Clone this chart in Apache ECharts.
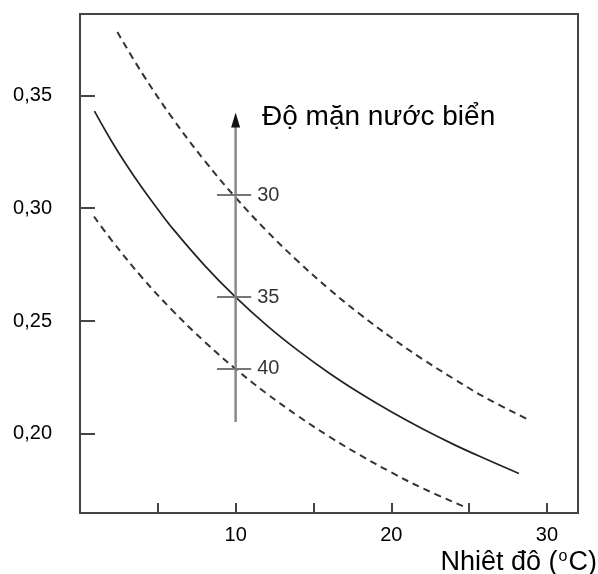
<!DOCTYPE html>
<html>
<head>
<meta charset="utf-8">
<script src="https://cdn.jsdelivr.net/npm/echarts@6/dist/echarts.min.js"></script>
<style>html,body{margin:0;padding:0;background:#fff}#c{width:598px;height:574px}</style>
</head>
<body>
<div id="c"></div>
<script>
// Temperature (°C) vs value — three curves for salinity 30, 35, 40
var solidCurve = [[0.93,0.343],[2,0.330],[3,0.319],[4,0.3089],[5,0.2995],[6,0.2906],[8,0.2747],[10,0.2606],[12,0.2481],[14,0.237],[16,0.227],[18,0.218],[20,0.2098],[22,0.2023],[24,0.1954],[26,0.1891],[28.2,0.1825]];
var upperCurve = [[2.4,0.378],[4,0.3597],[6,0.3393],[8,0.3211],[10,0.3047],[12,0.2899],[14,0.2765],[16,0.2642],[18,0.253],[20,0.2427],[22,0.2332],[24,0.2245],[26,0.2163],[28.9,0.206]];
var lowerCurve = [[0.9,0.2963],[2,0.2861],[4,0.2692],[6,0.2543],[8,0.2409],[10,0.2288],[12,0.2179],[14,0.208],[16,0.1989],[18,0.1906],[20,0.183],[22,0.176],[24.9,0.1672]];
var salinity = [30, 35, 40];
var salinityY = [0.3058, 0.2606, 0.2288];
var arrowLine = [[10,0.2053],[10,0.3391]];
var tickSpan = [8.8, 11.0];
var xTicks = [5,10,15,20,25,30];
var xLabels = [10,20,30];
var yTicks = [0.20,0.25,0.30,0.35];
var titleText = 'Độ mặn nước biển';

var FONT = 'Liberation Sans';
var chart = echarts.init(document.getElementById('c'), null, {renderer:'canvas'});
var dashed = {color:'#333', width:2, type:[7,5]};
chart.setOption({
  animation:false,
  backgroundColor:'#fff',
  grid:{left:80, right:20, top:14, bottom:61, show:true, borderColor:'#444', borderWidth:2},
  xAxis:{type:'value', min:0, max:32,
    axisLine:{show:true, lineStyle:{color:'#444', width:2}},
    axisTick:{show:true, inside:true, length:10, customValues:xTicks, lineStyle:{color:'#444', width:2}},
    axisLabel:{customValues:xLabels, fontSize:20, color:'#000', margin:12, fontFamily:FONT},
    splitLine:{show:false}},
  yAxis:{type:'value', min:0.165, max:0.386,
    axisLine:{show:true, lineStyle:{color:'#444', width:2}},
    axisTick:{show:true, inside:true, length:15, customValues:yTicks, lineStyle:{color:'#444', width:2}},
    axisLabel:{customValues:yTicks, fontSize:20, color:'#000', margin:28, fontFamily:FONT,
      formatter:function(v){return v.toFixed(2).replace('.',',');}},
    splitLine:{show:false}},
  series:[
    {type:'line', data:upperCurve, smooth:0.4, showSymbol:false, lineStyle:dashed, silent:true},
    {type:'line', data:solidCurve, smooth:0.4, showSymbol:false, lineStyle:{color:'#222', width:1.7}, silent:true},
    {type:'line', data:lowerCurve, smooth:0.4, showSymbol:false, lineStyle:dashed, silent:true},
    {type:'line', symbol:'none',
      data:[{value:arrowLine[0]}, {value:arrowLine[1], symbol:'triangle', symbolSize:[9,15], itemStyle:{color:'#111'}}],
      lineStyle:{color:'#888', width:2.5}, silent:true,
      markLine:{silent:true, symbol:['none','none'], label:{show:false},
        lineStyle:{color:'#777', width:2, type:'solid'},
        data:salinityY.map(function(y){return [{coord:[tickSpan[0],y]},{coord:[tickSpan[1],y]}];})}},
    {type:'scatter', symbolSize:0, silent:true,
      data:salinityY.map(function(y,i){return [tickSpan[1], y, salinity[i]];}),
      label:{show:true, position:'right', distance:6, fontSize:20, color:'#000', fontFamily:FONT,
        formatter:function(p){return String(p.value[2]);}}}
  ],
  graphic:[
    {type:'text', x:262, y:117, style:{text:titleText, fontSize:28, fontFamily:FONT, fill:'#000', verticalAlign:'middle', align:'left'}},
    {type:'text', x:597, y:563, style:{text:'{a|Nhiêt đô (}{s|o}{a|C)}', align:'right', verticalAlign:'middle', fill:'#000',
      rich:{a:{fontSize:27, fontFamily:FONT, fill:'#000'}, s:{fontSize:16, fontFamily:FONT, fill:'#000', padding:[0,1,12,1]}}}}
  ]
});
</script>
</body>
</html>
